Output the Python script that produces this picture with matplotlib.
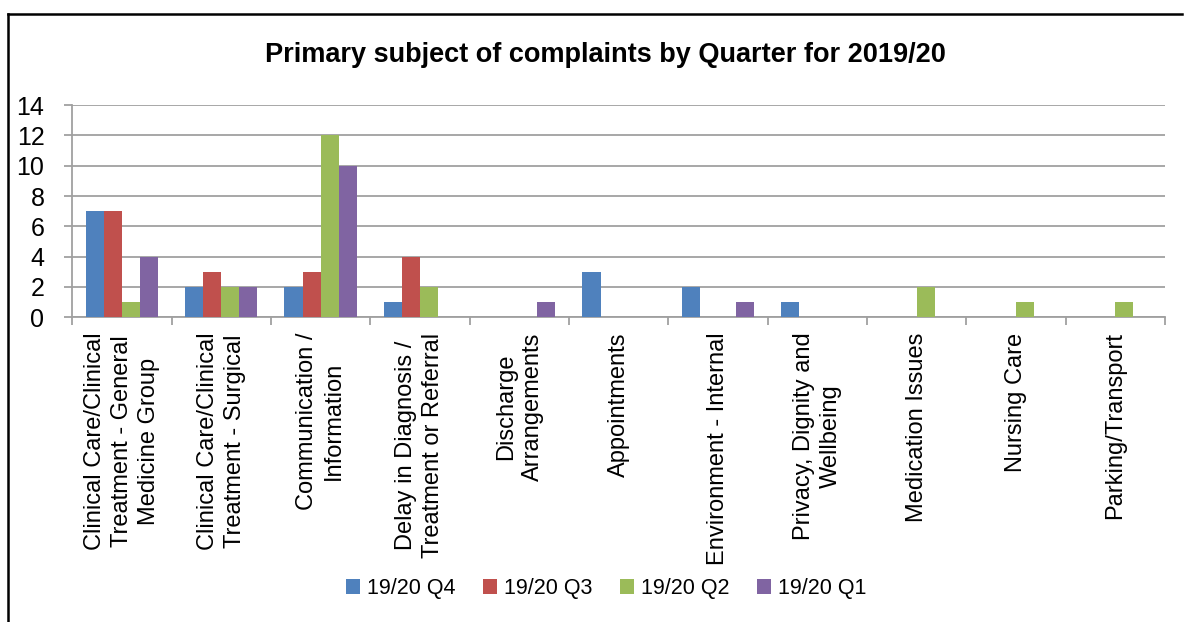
import matplotlib
matplotlib.use('Agg')
import matplotlib.pyplot as plt
import numpy as np
from matplotlib.lines import Line2D

plt.rcParams['font.family'] = ['Liberation Sans Narrow', 'Liberation Sans', 'DejaVu Sans']

categories = [
    'Clinical Care/Clinical\nTreatment - General\nMedicine Group',
    'Clinical Care/Clinical\nTreatment - Surgical',
    'Communication /\nInformation',
    'Delay in Diagnosis /\nTreatment or Referral',
    'Discharge\nArrangements',
    'Appointments',
    'Environment - Internal',
    'Privacy, Dignity and\nWellbeing',
    'Medication Issues',
    'Nursing Care',
    'Parking/Transport',
]
series_names = ['19/20 Q4', '19/20 Q3', '19/20 Q2', '19/20 Q1']
q4 = [7, 2, 2, 1, 0, 3, 2, 1, 0, 0, 0]
q3 = [7, 3, 3, 4, 0, 0, 0, 0, 0, 0, 0]
q2 = [1, 2, 12, 2, 0, 0, 0, 0, 2, 1, 1]
q1 = [4, 2, 10, 0, 1, 0, 1, 0, 0, 0, 0]
colors = ['#4F81BD', '#C0504D', '#9BBB59', '#8064A2']

fig = plt.figure(figsize=(11.84, 6.22), dpi=100)
ax = fig.add_axes([0.061, 0.490, 0.923, 0.341])

x = np.arange(len(categories))
w = 0.182
for i, (vals, name, c) in enumerate(zip([q4, q3, q2, q1], series_names, colors)):
    ax.bar(x + (i - 1.5) * w, vals, width=w, color=c, label=name, zorder=3)

ax.set_xlim(-0.5, len(categories) - 0.5)
ax.set_ylim(0, 14)
ax.set_yticks(range(0, 15, 2))
ax.yaxis.grid(True, color='#A0A0A0', linewidth=1.3, zorder=0)
for s in ['top', 'right']:
    ax.spines[s].set_visible(False)
for s in ['left', 'bottom']:
    ax.spines[s].set_color('#A0A0A0')
    ax.spines[s].set_linewidth(1.3)
ax.tick_params(axis='y', length=6, width=1.3, color='#A0A0A0', pad=14, labelsize=18)

ax.set_xticks(x)
ax.set_xticklabels(categories, rotation=90, ha='center', va='top',
                   multialignment='center', fontsize=17, linespacing=1.3)
ax.tick_params(axis='x', which='major', length=0, pad=11)
ax.set_xticks(np.arange(-0.5, len(categories), 1), minor=True)
ax.tick_params(axis='x', which='minor', length=6, width=1.3, color='#A0A0A0')

fig.text(0.511, 0.912, 'Primary subject of complaints by Quarter for 2019/20',
         ha='center', va='center', fontsize=19.5, fontweight='bold')

fig.legend(loc='center', bbox_to_anchor=(0.512, 0.054), ncol=4, frameon=False,
           fontsize=15.5, handlelength=0.65, handleheight=0.65, handletextpad=0.3,
           columnspacing=1.3)

fig.add_artist(Line2D([0.0068, 0.0068], [0.0, 0.978], color='black', linewidth=1.8,
                      transform=fig.transFigure))
fig.add_artist(Line2D([0.0068, 0.998], [0.978, 0.978], color='black', linewidth=1.8,
                      transform=fig.transFigure))

fig.savefig('out.png', dpi=100)
